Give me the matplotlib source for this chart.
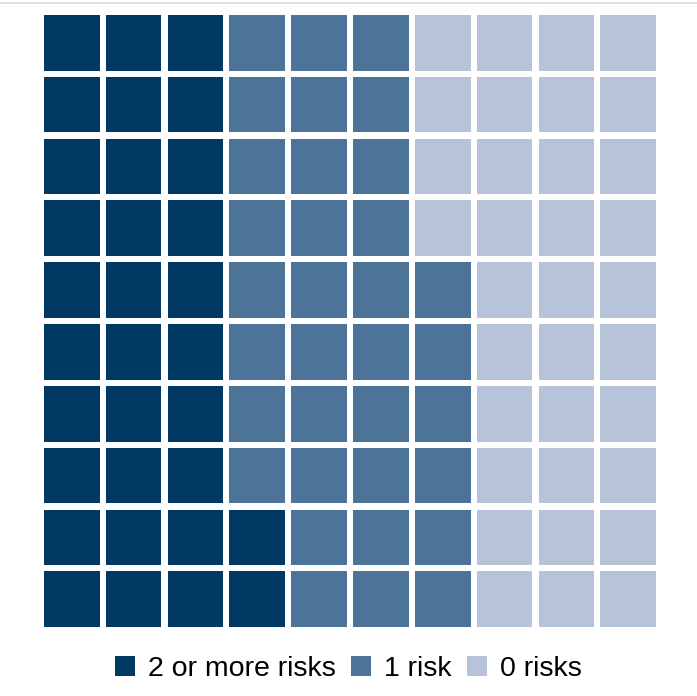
import matplotlib
matplotlib.use("Agg")
import matplotlib.pyplot as plt
from matplotlib.patches import Rectangle, Patch
from matplotlib.lines import Line2D

plt.rcParams['font.family'] = ['Liberation Sans', 'DejaVu Sans']

labels = ["2 or more risks", "1 risk", "0 risks"]
counts = [32, 34, 34]
colors = ["#003a63", "#4d7399", "#b6c3d8"]
n_rows = 10
n_cols = 10

fig = plt.figure(figsize=(6.97, 6.96), dpi=100)
# grid area: 44..656 px wide, 15..627 px tall
ax = fig.add_axes([44 / 697, (696 - 627) / 696, 612 / 697, 612 / 696])

size = 0.9
# fill columns bottom to top, left to right
cell = 0
for k, cnt in enumerate(counts):
    for _ in range(cnt):
        col = cell // n_rows
        row = cell % n_rows
        ax.add_patch(Rectangle((col, row), size, size, facecolor=colors[k],
                               edgecolor="none"))
        cell += 1

ax.set_xlim(0, n_cols - 1 + size)
ax.set_ylim(0, n_rows - 1 + size)
ax.axis("off")

# thin grey rule along the top
fig.add_artist(Line2D([0, 1], [1 - 3 / 696, 1 - 3 / 696], color="#d9d9d9",
                      lw=1.2, transform=fig.transFigure))

handles = [Patch(facecolor=c, edgecolor="none") for c in colors]
fig.legend(handles, labels, loc="center", bbox_to_anchor=(0.5, 1 - 669 / 696),
           ncol=3, frameon=False, fontsize=20.5, handlelength=0.7,
           handleheight=0.7, handletextpad=0.45, columnspacing=0.55)

fig.savefig("out.png", dpi=100, facecolor="white")
